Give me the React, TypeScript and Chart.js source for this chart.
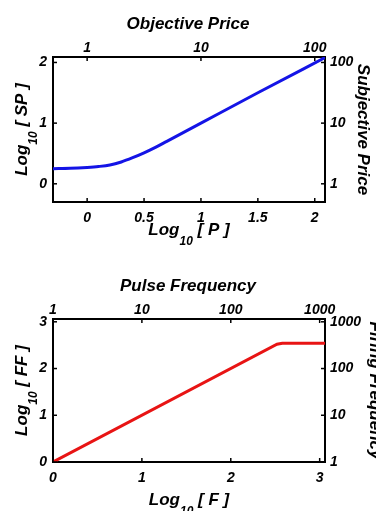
import React, { useEffect, useRef } from 'react';
import { Chart, registerables } from 'chart.js';

Chart.register(...registerables);

const FONT = "'Liberation Sans', Arial, Helvetica, sans-serif";

// ---------- Chart 1: Objective / Subjective price ----------
const priceLogP = [-0.3, -0.15, 0, 0.1, 0.2, 0.3, 0.4, 0.5, 0.6, 0.7, 1.0, 1.5, 2.09];
const priceLogSP = [0.25, 0.255, 0.27, 0.285, 0.31, 0.36, 0.43, 0.51, 0.6, 0.7, 1.0, 1.5, 2.08];
const priceBottomTicks = [0, 0.5, 1, 1.5, 2];
const priceBottomLabels = ['0', '0.5', '1', '1.5', '2'];
const priceLeftTicks = [0, 1, 2];
const priceLeftLabels = ['0', '1', '2'];
const priceTopTicks = [0, 1, 2];
const priceTopLabels = ['1', '10', '100'];
const priceRightTicks = [0, 1, 2];
const priceRightLabels = ['1', '10', '100'];

// ---------- Chart 2: Pulse / Firing frequency ----------
const freqLogF = [0, 2.52, 2.58, 3.06];
const freqLogFF = [0, 2.52, 2.54, 2.54];
const freqBottomTicks = [0, 1, 2, 3];
const freqBottomLabels = ['0', '1', '2', '3'];
const freqLeftTicks = [0, 1, 2, 3];
const freqLeftLabels = ['0', '1', '2', '3'];
const freqTopTicks = [0, 1, 2, 3];
const freqTopLabels = ['1', '10', '100', '1000'];
const freqRightTicks = [0, 1, 2, 3];
const freqRightLabels = ['1', '10', '100', '1000'];

const tickFont = { family: FONT, size: 14, weight: 'bold' as const, style: 'italic' as const };
const titleFont = { family: FONT, size: 17, weight: 'bold' as const, style: 'italic' as const };

const innerTicks = {
  id: 'innerTicks',
  afterDraw(chart: any) {
    const { ctx, chartArea: a } = chart;
    const L = 4;
    ctx.save();
    ctx.strokeStyle = '#000';
    ctx.lineWidth = 1.5;
    Object.values(chart.scales).forEach((s: any) => {
      s.ticks.forEach((t: any) => {
        const p = s.getPixelForValue(t.value);
        ctx.beginPath();
        if (s.position === 'bottom') { ctx.moveTo(p, a.bottom); ctx.lineTo(p, a.bottom - L); }
        else if (s.position === 'top') { ctx.moveTo(p, a.top); ctx.lineTo(p, a.top + L); }
        else if (s.position === 'left') { ctx.moveTo(a.left, p); ctx.lineTo(a.left + L, p); }
        else { ctx.moveTo(a.right, p); ctx.lineTo(a.right - L, p); }
        ctx.stroke();
      });
    });
    ctx.restore();
  },
};

function drawLogText(ctx: any, parts: string[]) {
  const main = `italic bold 17px ${FONT}`;
  const sub = `italic bold 12px ${FONT}`;
  ctx.font = main;
  const w1 = ctx.measureText(parts[0]).width;
  const w3 = ctx.measureText(parts[2]).width;
  ctx.font = sub;
  const w2 = ctx.measureText(parts[1]).width;
  const total = w1 + w2 + w3;
  let x = -total / 2;
  ctx.textBaseline = 'alphabetic';
  ctx.textAlign = 'left';
  ctx.fillStyle = '#000';
  ctx.font = main;
  ctx.fillText(parts[0], x, 0);
  x += w1;
  ctx.font = sub;
  ctx.fillText(parts[1], x, 10);
  x += w2;
  ctx.font = main;
  ctx.fillText(parts[2], x, 0);
}

const logTitles = {
  id: 'logTitles',
  afterDraw(chart: any, _args: any, opts: any) {
    const { ctx, chartArea: a } = chart;
    ctx.save();
    ctx.translate((a.left + a.right) / 2, a.bottom + opts.xBaseline);
    drawLogText(ctx, opts.xText);
    ctx.restore();
    ctx.save();
    ctx.translate(opts.yBaseline, (a.top + a.bottom) / 2);
    ctx.rotate(-Math.PI / 2);
    drawLogText(ctx, opts.yText);
    ctx.restore();
  },
};

function axis(position: string, min: number, max: number, ticks: number[], labels: string[], size: number, padding: number, extra: any = {}) {
  return {
    type: 'linear',
    position,
    min,
    max,
    afterBuildTicks: (s: any) => { s.ticks = ticks.map((v) => ({ value: v })); },
    afterFit: (s: any) => {
      if (position === 'top' || position === 'bottom') s.height = size; else s.width = size;
    },
    ticks: {
      callback: (v: number) => { const i = ticks.indexOf(v); return i >= 0 ? labels[i] : ''; },
      font: tickFont,
      color: '#000',
      padding,
      autoSkip: false,
      maxRotation: 0,
      minRotation: 0,
    },
    grid: { display: false, drawTicks: false },
    border: { display: true, color: '#000', width: 2 },
    ...extra,
  };
}

function makeConfig(spec: any): any {
  return {
    type: 'line',
    data: {
      datasets: [
        {
          data: spec.xs.map((x: number, i: number) => ({ x, y: spec.ys[i] })),
          borderColor: spec.color,
          borderWidth: 3,
          pointRadius: 0,
          fill: false,
          cubicInterpolationMode: spec.smooth ? 'monotone' : 'default',
          tension: 0,
        },
      ],
    },
    options: {
      responsive: false,
      animation: false,
      devicePixelRatio: 1,
      layout: { padding: 0 },
      scales: {
        x: axis('bottom', spec.xMin, spec.xMax, spec.bottomTicks, spec.bottomLabels, spec.bottomH, 8),
        x2: axis('top', spec.xMin, spec.xMax, spec.topTicks, spec.topLabels, 22.6, 0),
        y: axis('left', spec.yMin, spec.yMax, spec.leftTicks, spec.leftLabels, 53, 6),
        y2: axis('right', spec.yMin, spec.yMax, spec.rightTicks, spec.rightLabels, 51, 5, {
          title: { display: true, text: spec.rightTitle, font: titleFont, color: '#000', padding: { top: spec.rightPad, bottom: 0 } },
        }),
      },
      plugins: {
        legend: { display: false },
        tooltip: { enabled: false },
        title: {
          display: true,
          text: spec.title,
          font: titleFont,
          color: '#000',
          padding: { top: 14, bottom: 0 },
        },
        logTitles: { xText: spec.xText, yText: spec.yText, xBaseline: spec.xBaseline, yBaseline: 27 },
      },
    },
    plugins: [innerTicks, logTitles],
  };
}

const priceSpec = {
  xs: priceLogP, ys: priceLogSP, color: '#1414e6', smooth: true,
  xMin: -0.3, xMax: 2.09, yMin: -0.3, yMax: 2.09,
  bottomTicks: priceBottomTicks, bottomLabels: priceBottomLabels,
  topTicks: priceTopTicks, topLabels: priceTopLabels,
  leftTicks: priceLeftTicks, leftLabels: priceLeftLabels,
  rightTicks: priceRightTicks, rightLabels: priceRightLabels,
  bottomH: 60, title: 'Objective Price', rightTitle: 'Subjective Price', rightPad: 3,
  xText: ['Log', '10', ' [ P ]'], yText: ['Log', '10', ' [ SP ]'], xBaseline: 33,
};

const freqSpec = {
  xs: freqLogF, ys: freqLogFF, color: '#e81414', smooth: false,
  xMin: 0, xMax: 3.06, yMin: 0, yMax: 3.06,
  bottomTicks: freqBottomTicks, bottomLabels: freqBottomLabels,
  topTicks: freqTopTicks, topLabels: freqTopLabels,
  leftTicks: freqLeftTicks, leftLabels: freqLeftLabels,
  rightTicks: freqRightTicks, rightLabels: freqRightLabels,
  bottomH: 49, title: 'Pulse Frequency', rightTitle: 'Firing Frequency', rightPad: -9,
  xText: ['Log', '10', ' [ F ]'], yText: ['Log', '10', ' [ FF ]'], xBaseline: 43,
};

function ChartCanvas({ spec, top, height }: { spec: any; top: number; height: number }) {
  const ref = useRef<HTMLCanvasElement | null>(null);
  useEffect(() => {
    const c = new Chart(ref.current as HTMLCanvasElement, makeConfig(spec));
    return () => c.destroy();
  }, []);
  return (
    <canvas
      ref={ref}
      width={376}
      height={height}
      style={{ position: 'absolute', left: 0, top, width: 376, height, display: 'block' }}
    />
  );
}

export default function App() {
  return (
    <div style={{ position: 'fixed', left: 0, top: 0, width: 376, height: 511, background: '#fff', overflow: 'hidden' }}>
      <ChartCanvas spec={priceSpec} top={0} height={262} />
      <ChartCanvas spec={freqSpec} top={262} height={249} />
    </div>
  );
}
